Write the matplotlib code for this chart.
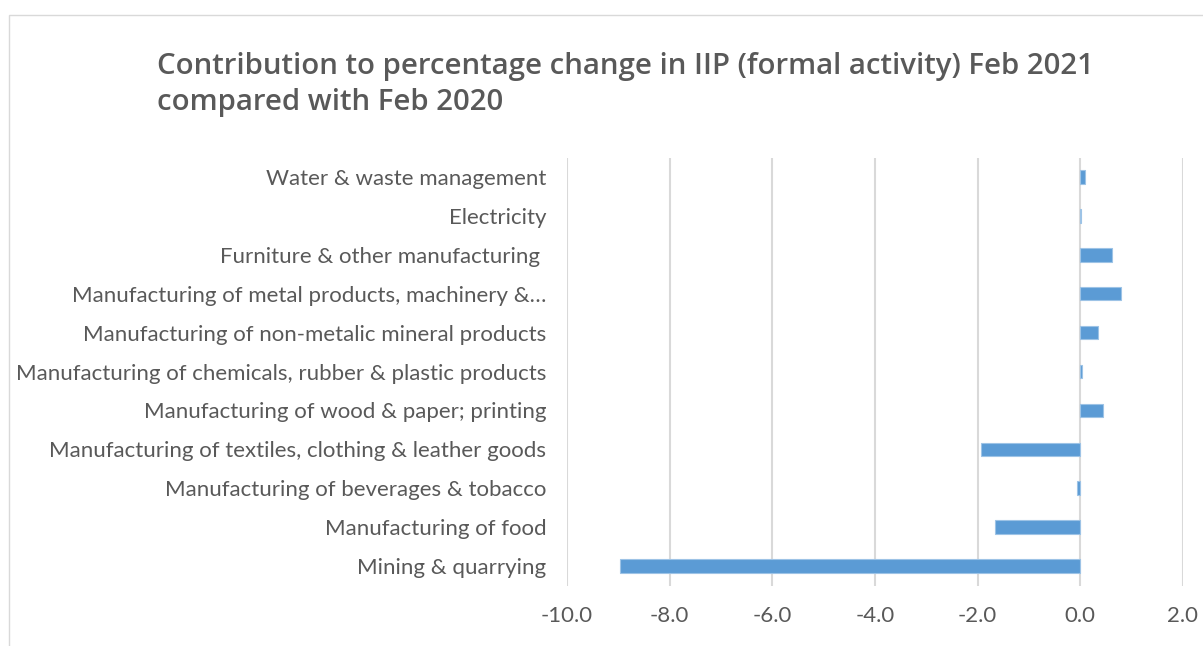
# plot.py
#   contribution to percentage change in IIP, Feb 2021 vs Feb 2020
#   horizontal bar chart, excel look

import matplotlib
matplotlib.use('Agg')
from matplotlib import pyplot as plt
from matplotlib.patches import Rectangle

TITLE_1 = 'Contribution to percentage change in IIP (formal activity) Feb 2021'
TITLE_2 = 'compared with Feb 2020'

# bottom to top, as drawn
SECTORS = [
    'Mining & quarrying',
    'Manufacturing of food',
    'Manufacturing of beverages & tobacco',
    'Manufacturing of textiles, clothing & leather goods',
    'Manufacturing of wood & paper; printing',
    'Manufacturing of chemicals, rubber & plastic products',
    'Manufacturing of non-metalic mineral products',
    'Manufacturing of metal products, machinery &\u2026',
    'Furniture & other manufacturing ',
    'Electricity',
    'Water & waste management',
]
CONTRIB = [-8.97, -1.67, -0.07, -1.93, 0.44, 0.04, 0.35, 0.79, 0.62, 0.005, 0.10]

XTICKS = [-10, -8, -6, -4, -2, 0, 2]

GREY = '#595959'
GRID = '#D9D9D9'
BLUE = '#5B9BD5'


def main():
    fig = plt.figure(figsize=(12.03, 6.46), dpi=100)

    # light chart border like excel
    fig.patches.append(Rectangle((9 / 1203, -0.1), 1.1, 1.1 - 15 / 646,
                                 transform=fig.transFigure, fill=False,
                                 edgecolor=GRID, linewidth=1.0))

    ax = fig.add_axes([567 / 1203, 1 - 585.5 / 646, 616 / 1203, 428 / 646])

    ypos = list(range(len(SECTORS)))
    ax.barh(ypos, CONTRIB, height=0.35, color=BLUE,
            edgecolor='#9DC3E6', linewidth=0.8, zorder=3)

    ax.set_xlim(-10, 2)
    ax.set_ylim(-0.5, len(SECTORS) - 0.5)
    ax.set_xticks(XTICKS)
    ax.set_xticklabels([f'{v:.1f}' for v in XTICKS])
    ax.set_yticks(ypos)
    ax.set_yticklabels(SECTORS)

    ax.grid(axis='x', color=GRID, linewidth=1.5, zorder=0)
    for s in ax.spines.values():
        s.set_visible(False)
    ax.tick_params(axis='both', length=0, colors=GREY, labelsize=16)
    ax.tick_params(axis='y', pad=15)
    ax.tick_params(axis='x', pad=15)
    for lbl in ax.get_xticklabels() + ax.get_yticklabels():
        lbl.set_fontfamily('Lato')

    fig.text(157 / 1203, 1 - 74 / 646, TITLE_1, fontsize=21.2, color=GREY,
             fontfamily='Open Sans', fontweight='semibold', va='baseline')
    fig.text(157 / 1203, 1 - 110 / 646, TITLE_2, fontsize=21.2, color=GREY,
             fontfamily='Open Sans', fontweight='semibold', va='baseline')

    plt.savefig('out.png', dpi=100)


if __name__ == '__main__':
    main()
